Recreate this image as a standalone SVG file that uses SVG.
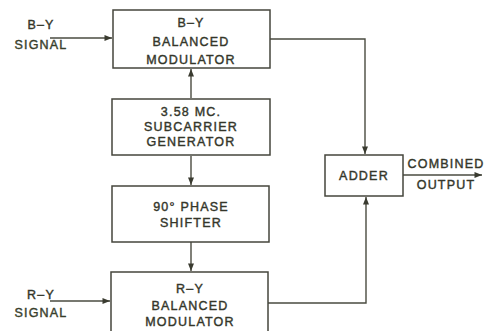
<svg xmlns="http://www.w3.org/2000/svg" width="484" height="331" viewBox="0 0 484 331">
<style>
.box{fill:#fff;stroke:#45463c;stroke-width:1.5}
.t{font-family:"Liberation Sans",Arial,sans-serif;font-size:12.5px;fill:#34362a;text-anchor:middle;letter-spacing:1.2px;stroke:#34362a;stroke-width:0.4}
.c{fill:none;stroke:#4a4b40;stroke-width:1.4}
</style>
<defs>
<marker id="ah" viewBox="0 0 10 8" refX="10" refY="4" markerWidth="9" markerHeight="6" markerUnits="userSpaceOnUse" orient="auto">
<path d="M0,0 L10,4 L0,8 Z" fill="#3a3b30"/>
</marker>
</defs>
<rect width="484" height="331" fill="#fff"/>
<g id="connectors">
<path class="c" d="M50,38 H112" marker-end="url(#ah)"/>
<path class="c" d="M50,301 H110" marker-end="url(#ah)"/>
<path class="c" d="M191,98 V69" marker-end="url(#ah)"/>
<path class="c" d="M191,156 V185" marker-end="url(#ah)"/>
<path class="c" d="M191,242 V271" marker-end="url(#ah)"/>
<path class="c" d="M270,39 H365 V154" marker-end="url(#ah)"/>
<path class="c" d="M268,303 H366 V197" marker-end="url(#ah)"/>
<path class="c" d="M403,175 H482" marker-end="url(#ah)"/>
</g>
<g id="by-signal">
<text class="t" x="41" y="29">B–Y</text>
<text class="t" x="41" y="49" style="fill:#3d4a2c">SIGNAL</text>
</g>
<g id="ry-signal">
<text class="t" x="41" y="299">R–Y</text>
<text class="t" x="41" y="317" style="fill:#3d4a2c">SIGNAL</text>
</g>
<g id="by-mod">
<rect class="box" x="113" y="10" width="157" height="58"/>
<text class="t" x="191" y="27">B–Y</text>
<text class="t" x="191" y="46">BALANCED</text>
<text class="t" x="191" y="64">MODULATOR</text>
</g>
<g id="subcarrier">
<rect class="box" x="112" y="99" width="158" height="56"/>
<text class="t" x="191" y="116">3.58 MC.</text>
<text class="t" x="191" y="131">SUBCARRIER</text>
<text class="t" x="191" y="146">GENERATOR</text>
</g>
<g id="phase">
<rect class="box" x="112" y="186" width="157" height="56"/>
<text class="t" x="191" y="211">90° PHASE</text>
<text class="t" x="191" y="227">SHIFTER</text>
</g>
<g id="ry-mod">
<rect class="box" x="111" y="272" width="157" height="70"/>
<text class="t" x="190" y="293">R–Y</text>
<text class="t" x="190" y="310">BALANCED</text>
<text class="t" x="190" y="326">MODULATOR</text>
</g>
<g id="adder">
<rect class="box" x="325" y="155" width="78" height="41"/>
<text class="t" x="364" y="180">ADDER</text>
</g>
<g id="output">
<text class="t" x="446" y="168">COMBINED</text>
<text class="t" x="446" y="189">OUTPUT</text>
</g>
</svg>
